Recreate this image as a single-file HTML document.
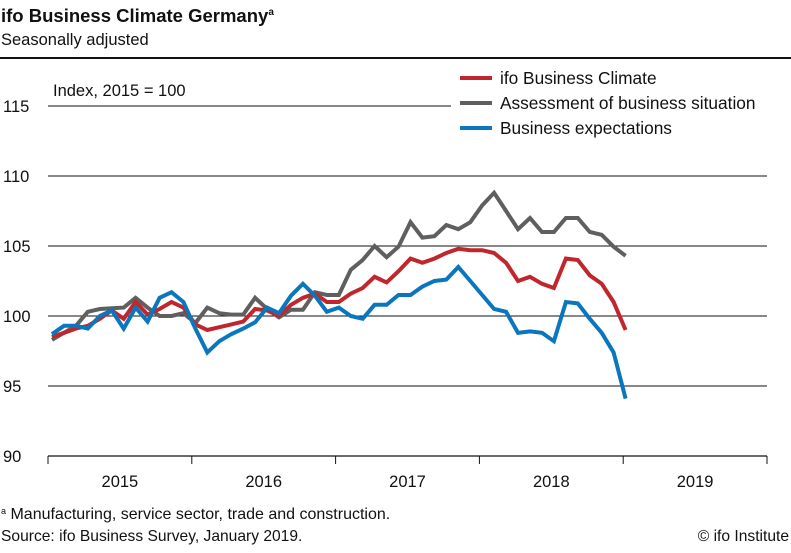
<!DOCTYPE html>
<html><head><meta charset="utf-8"><style>
body{margin:0;background:#fff;width:791px;height:548px;overflow:hidden;font-family:"Liberation Sans",sans-serif;}
svg text{font-family:"Liberation Sans",sans-serif;}
</style></head><body>
<svg id="chart" width="791" height="548" xmlns="http://www.w3.org/2000/svg">
<text x="1" y="22" font-size="18.5" font-weight="bold" fill="#111">ifo Business Climate Germany<tspan font-size="10" dy="-7">a</tspan></text>
<text x="1" y="45" font-size="16.5" fill="#111">Seasonally adjusted</text>
<rect x="0" y="57" width="791" height="2" fill="#111"/>
<text x="53" y="96" font-size="16.5" fill="#111">Index, 2015 = 100</text>
<g id="grid"></g>
<g id="series"></g>
<g>
<line x1="460" y1="78" x2="492" y2="78" stroke="#c0272d" stroke-width="4"/>
<text x="500" y="84" font-size="17.3" fill="#111">ifo Business Climate</text>
<line x1="460" y1="103" x2="492" y2="103" stroke="#5f5f5f" stroke-width="4"/>
<text x="500" y="109" font-size="17.3" fill="#111">Assessment of business situation</text>
<line x1="460" y1="128" x2="492" y2="128" stroke="#0a76bd" stroke-width="4"/>
<text x="500" y="134" font-size="17.3" fill="#111">Business expectations</text>
</g>
<text x="1" y="519" font-size="16" fill="#111"><tspan font-size="9" dy="-5">a</tspan><tspan dy="5"> Manufacturing, service sector, trade and construction.</tspan></text>
<text x="1" y="541" font-size="15.6" fill="#111">Source: ifo Business Survey, January 2019.</text>
<text x="789" y="541" font-size="15.6" fill="#111" text-anchor="end">© ifo Institute</text>
</svg>
<script>
const years = ["2015","2016","2017","2018","2019"];
const yTicks = [90,95,100,105,110,115];
const climate = [98.5,98.8,99.1,99.3,99.8,100.4,99.8,101.0,100.1,100.5,101.0,100.6,99.4,99.0,99.2,99.4,99.6,100.5,100.4,100.0,100.8,101.3,101.6,101.0,101.0,101.6,102.0,102.8,102.4,103.2,104.1,103.8,104.1,104.5,104.8,104.7,104.7,104.5,103.8,102.5,102.8,102.3,102.0,104.1,104.0,102.9,102.3,101.0,99.0];
const situation = [98.3,98.8,99.3,100.3,100.5,100.55,100.6,101.3,100.6,100.0,100.0,100.2,99.5,100.6,100.2,100.1,100.1,101.3,100.5,99.9,100.45,100.45,101.7,101.5,101.5,103.3,104.0,105.0,104.2,104.95,106.7,105.6,105.7,106.5,106.2,106.7,107.9,108.8,107.5,106.2,107.0,106.0,106.0,107.0,107.0,106.0,105.8,104.95,104.3];
const expectations = [98.7,99.3,99.3,99.1,100.0,100.4,99.1,100.6,99.6,101.3,101.7,101.0,99.1,97.4,98.2,98.7,99.1,99.55,100.6,100.2,101.45,102.3,101.45,100.3,100.6,100.0,99.8,100.8,100.8,101.5,101.5,102.1,102.5,102.6,103.5,102.5,101.5,100.5,100.3,98.8,98.9,98.8,98.2,101.0,100.9,99.8,98.8,97.4,94.1];

const NS="http://www.w3.org/2000/svg";
const X0=48, YEARW=143.8;
function xMonth(i){return X0+4+i*11.95;}
function yVal(v){return 456-(v-90)*14;}
const grid=document.getElementById('grid');
function mk(tag,attrs,parent){const e=document.createElementNS(NS,tag);for(const k in attrs)e.setAttribute(k,attrs[k]);parent.appendChild(e);return e;}
yTicks.forEach(v=>{
  const y=yVal(v);
  const l=mk('line',{x1:X0,x2:(v===115?451:767),y1:y,y2:y,stroke:'#111','stroke-width':v===90?1.3:1.1},grid);
  
  
  const t=mk('text',{x:3,y:y+6,'font-size':16.5,fill:'#111'},grid);
  t.textContent=v;
  
  
});
for(let k=0;k<=years.length;k++){
  const x=X0+k*YEARW;
  const tk=mk('line',{x1:x,x2:x,y1:456,y2:464,stroke:'#111','stroke-width':1},grid);
  
  
}
years.forEach((yr,k)=>{
  const t=mk('text',{x:X0+(k+0.5)*YEARW,y:487,'font-size':16.5,fill:'#111','text-anchor':'middle'},grid);
  t.textContent=yr;
  
  
});
const sg=document.getElementById('series');
[[situation,'#5f5f5f','situation-line'],[climate,'#c0272d','climate-line'],[expectations,'#0a76bd','expectations-line']].forEach(([arr,c,n])=>{
  const p=mk('polyline',{points:arr.map((v,i)=>xMonth(i).toFixed(1)+','+yVal(v).toFixed(1)).join(' '),fill:'none',stroke:c,'stroke-width':4,'stroke-linejoin':'miter'},sg);
  
  
});
</script>
</body></html>
